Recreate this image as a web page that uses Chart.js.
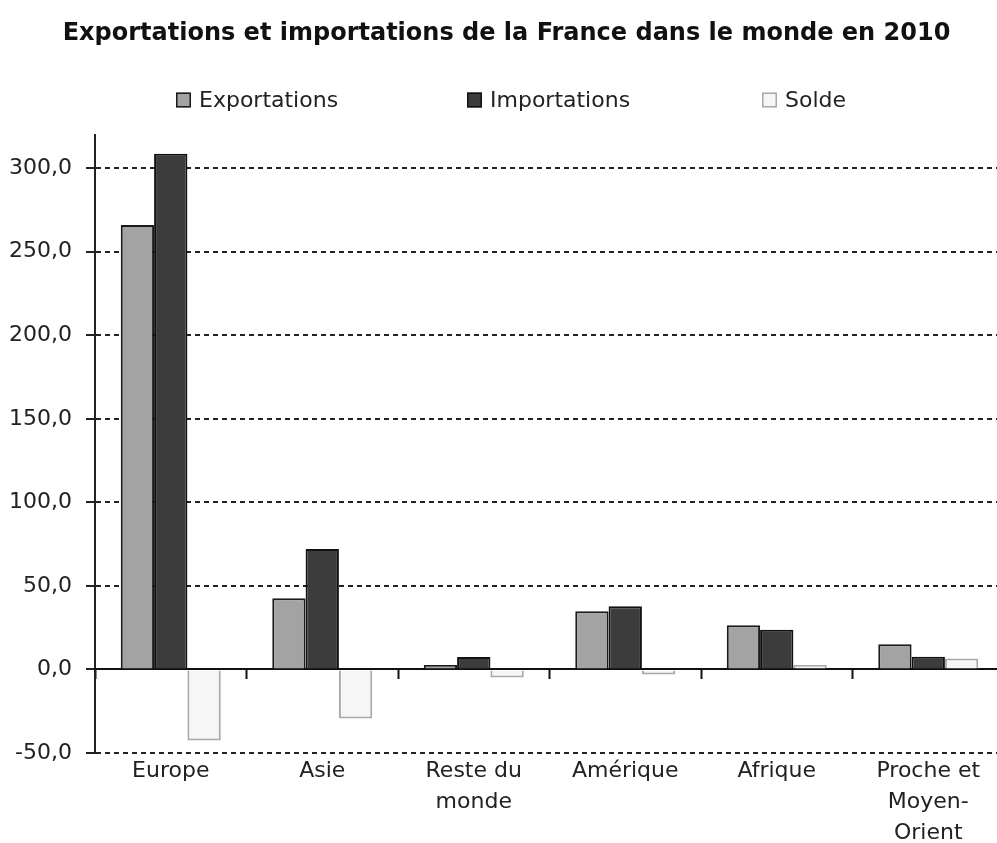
<!DOCTYPE html>
<html>
<head>
<meta charset="utf-8">
<script src="https://cdn.jsdelivr.net/npm/chart.js@4"></script>
<style>
  html, body { margin: 0; padding: 0; background: #fff; overflow: hidden; }
  #wrap { width: 1004px; height: 852px; }
</style>
</head>
<body>
<div id="wrap"><canvas id="myChart" width="1004" height="852"></canvas></div>
<script>
// values (milliards d'euros)
const regions = ['Europe', 'Asie', ['Reste du', 'monde'], 'Amérique', 'Afrique', ['Proche et', 'Moyen-', 'Orient']];
const exportations = [266.0, 42.6, 2.6, 34.8, 26.4, 15.0];
const importations = [308.6, 72.0, 7.4, 37.8, 23.8, 7.6];
const solde = [-42.6, -29.4, -4.8, -3.0, 2.6, 6.6];
const yTicks = [-50, 0, 50, 100, 150, 200, 250, 300];

const FONT = "'DejaVu Sans', sans-serif";

// legend spread out like the original, drawn from the datasets
const wideLegend = {
  id: 'wideLegend',
  afterDraw(chart, args, opts) {
    const ctx = chart.ctx;
    ctx.save();
    ctx.font = '22px ' + FONT;
    ctx.textBaseline = 'middle';
    chart.data.datasets.forEach((ds, i) => {
      const x = opts.xs[i];
      const y = opts.y;
      ctx.fillStyle = ds.backgroundColor;
      ctx.strokeStyle = ds.borderColor;
      ctx.lineWidth = 1.5;
      ctx.fillRect(x, y - 7.5, 15, 15);
      ctx.strokeRect(x + 0.75, y - 6.75, 13.5, 13.5);
      ctx.fillStyle = '#222';
      ctx.fillText(ds.label, x + 23, y + 1);
    });
    ctx.restore();
  }
};

function initChart() {
  const ctx = document.getElementById('myChart');

  new Chart(ctx, {
    type: 'bar',
    data: {
      labels: regions,
      datasets: [
        { label: 'Exportations', data: exportations, backgroundColor: '#a3a3a3', borderColor: '#1a1a1a', borderWidth: 2 },
        { label: 'Importations', data: importations, backgroundColor: '#3c3c3c', borderColor: '#111111', borderWidth: 2 },
        { label: 'Solde', data: solde, backgroundColor: '#f6f6f6', borderColor: '#a8a8a8', borderWidth: 2 }
      ]
    },
    options: {
      responsive: false,
      animation: false,
      categoryPercentage: 0.66,
      barPercentage: 1.0,
      layout: { padding: { left: 9, right: 0, top: 0, bottom: 0 } },
      plugins: {
        legend: { display: false },
        tooltip: { enabled: false },
        title: {
          display: true,
          text: 'Exportations et importations de la France dans le monde en 2010',
          color: '#111',
          font: { family: FONT, size: 24, weight: 'bold', lineHeight: 1.2 },
          padding: { top: 19, bottom: 87 }
        },
        wideLegend: { xs: [176, 467, 762], y: 100 }
      },
      scales: {
        y: {
          min: -50,
          max: 320,
          afterBuildTicks: (scale) => {
            scale.ticks = yTicks.map(v => ({ value: v }));
          },
          afterFit: (scale) => { scale.width = 86; },
          ticks: {
            color: '#222',
            padding: 14,
            font: { family: FONT, size: 22 },
            callback: (v) => v.toFixed(1).replace('.', ',')
          },
          grid: {
            color: '#222',
            lineWidth: 2,
            drawTicks: true,
            tickLength: 9,
            tickColor: '#222',
            tickWidth: 2
          },
          border: {
            display: true,
            color: '#222',
            width: 2,
            dash: (c) => (c.tick && c.tick.value === 0) ? [] : [5, 4]
          }
        },
        x: {
          position: { y: 0 },
          z: 1,
          ticks: { display: false },
          grid: {
            offset: true,
            drawOnChartArea: false,
            drawTicks: true,
            tickLength: 9,
            tickColor: '#111',
            tickWidth: 2
          },
          border: { display: true, color: '#111', width: 2 }
        },
        x2: {
          type: 'category',
          position: 'bottom',
          labels: regions,
          offset: true,
          ticks: {
            color: '#222',
            padding: 3,
            maxRotation: 0,
            autoSkip: false,
            font: { family: FONT, size: 22, lineHeight: 1.41 }
          },
          grid: { display: false, drawTicks: false },
          border: { display: false }
        }
      }
    },
    plugins: [wideLegend]
  });
}

document.addEventListener("DOMContentLoaded", () => initChart());
</script>
</body>
</html>
